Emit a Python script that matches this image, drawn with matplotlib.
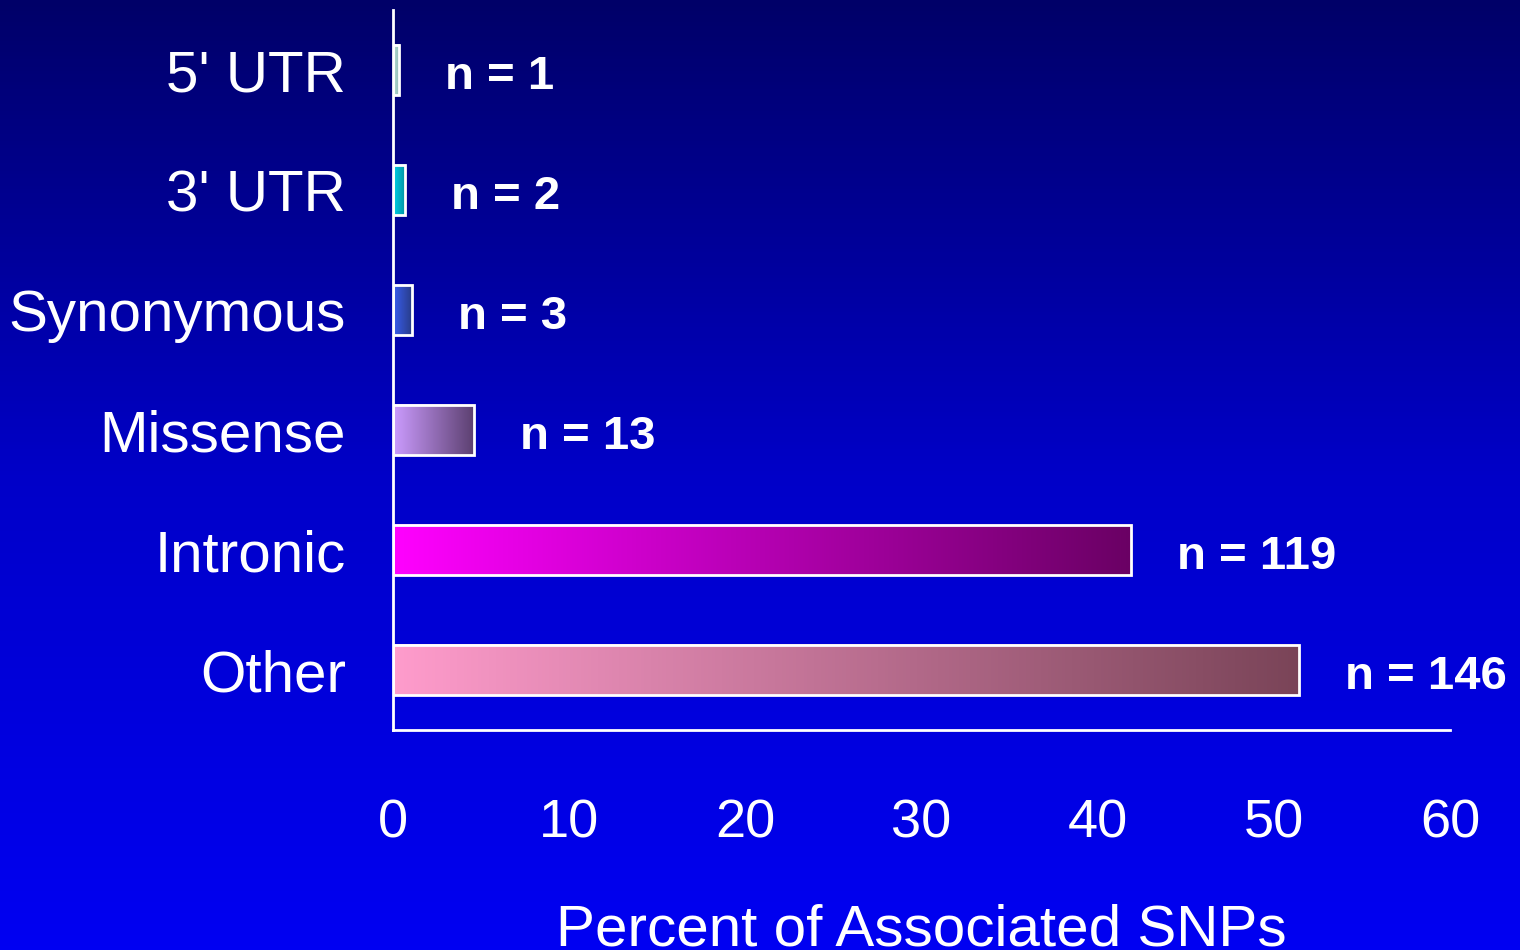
import numpy as np
import matplotlib.pyplot as plt
from matplotlib.colors import LinearSegmentedColormap
from matplotlib.patches import Rectangle

plt.rcParams['font.family'] = ['Liberation Sans', 'DejaVu Sans']

# dati
categorie = ["5' UTR", "3' UTR", "Synonymous", "Missense", "Intronic", "Other"]
percentuali = [0.35, 0.70, 1.06, 4.58, 41.90, 51.41]
conteggi = [1, 2, 3, 13, 119, 146]
colori_chiari = ['#b8e0d8', '#00d0e8', '#3a5ef0', '#cc9cff', '#ff00ff', '#ff9ccc']
colori_scuri = ['#90b8b0', '#0090a0', '#283c88', '#5c4070', '#6a0064', '#7a4458']

fig = plt.figure(figsize=(15.2, 9.5), dpi=100)

# sfondo sfumato blu
bg = fig.add_axes([0, 0, 1, 1], zorder=-10)
grad = np.linspace(0, 1, 256).reshape(-1, 1)
cmap_bg = LinearSegmentedColormap.from_list('bg', ['#000068', '#0000c8', '#0000f2'])
bg.imshow(grad, aspect='auto', cmap=cmap_bg, extent=[0, 1, 0, 1], origin='upper')
bg.axis('off')

ax = fig.add_axes([393/1520, 1-730/950, (1450-393)/1520, 720/950])
ax.patch.set_alpha(0)

altezza = 0.42
ypos = np.arange(len(categorie))
riga = np.linspace(0, 1, 256).reshape(1, -1)
for y, v, c1, c2 in zip(ypos, percentuali, colori_chiari, colori_scuri):
    cm = LinearSegmentedColormap.from_list('b', [c1, c2])
    ax.imshow(riga, aspect='auto', cmap=cm,
              extent=[0, v, y + altezza/2, y - altezza/2], zorder=2)
    ax.add_patch(Rectangle((0, y - altezza/2), v, altezza, fill=False,
                           edgecolor='white', linewidth=2, zorder=3))

for y, v, n in zip(ypos, percentuali, conteggi):
    ax.annotate('n = %d' % n, (v, y), xytext=(33, -5), textcoords='offset points',
                va='center', ha='left', color='white', fontsize=34, fontweight='bold')

ax.set_xlim(0, 60)
ax.set_ylim(5.5, -0.5)
ax.set_yticks(ypos)
ax.set_yticklabels(categorie)
ax.set_xticks(np.arange(0, 61, 10))
ax.tick_params(axis='y', length=0, pad=34, labelsize=42, labelcolor='white')
ax.tick_params(axis='x', length=0, pad=49, labelsize=39, labelcolor='white')
ax.set_xlabel('Percent of Associated SNPs', color='white', fontsize=42, labelpad=40)

for s in ['top', 'right']:
    ax.spines[s].set_visible(False)
for s in ['left', 'bottom']:
    ax.spines[s].set_color('white')
    ax.spines[s].set_linewidth(2)

fig.savefig('out.png', dpi=100)
